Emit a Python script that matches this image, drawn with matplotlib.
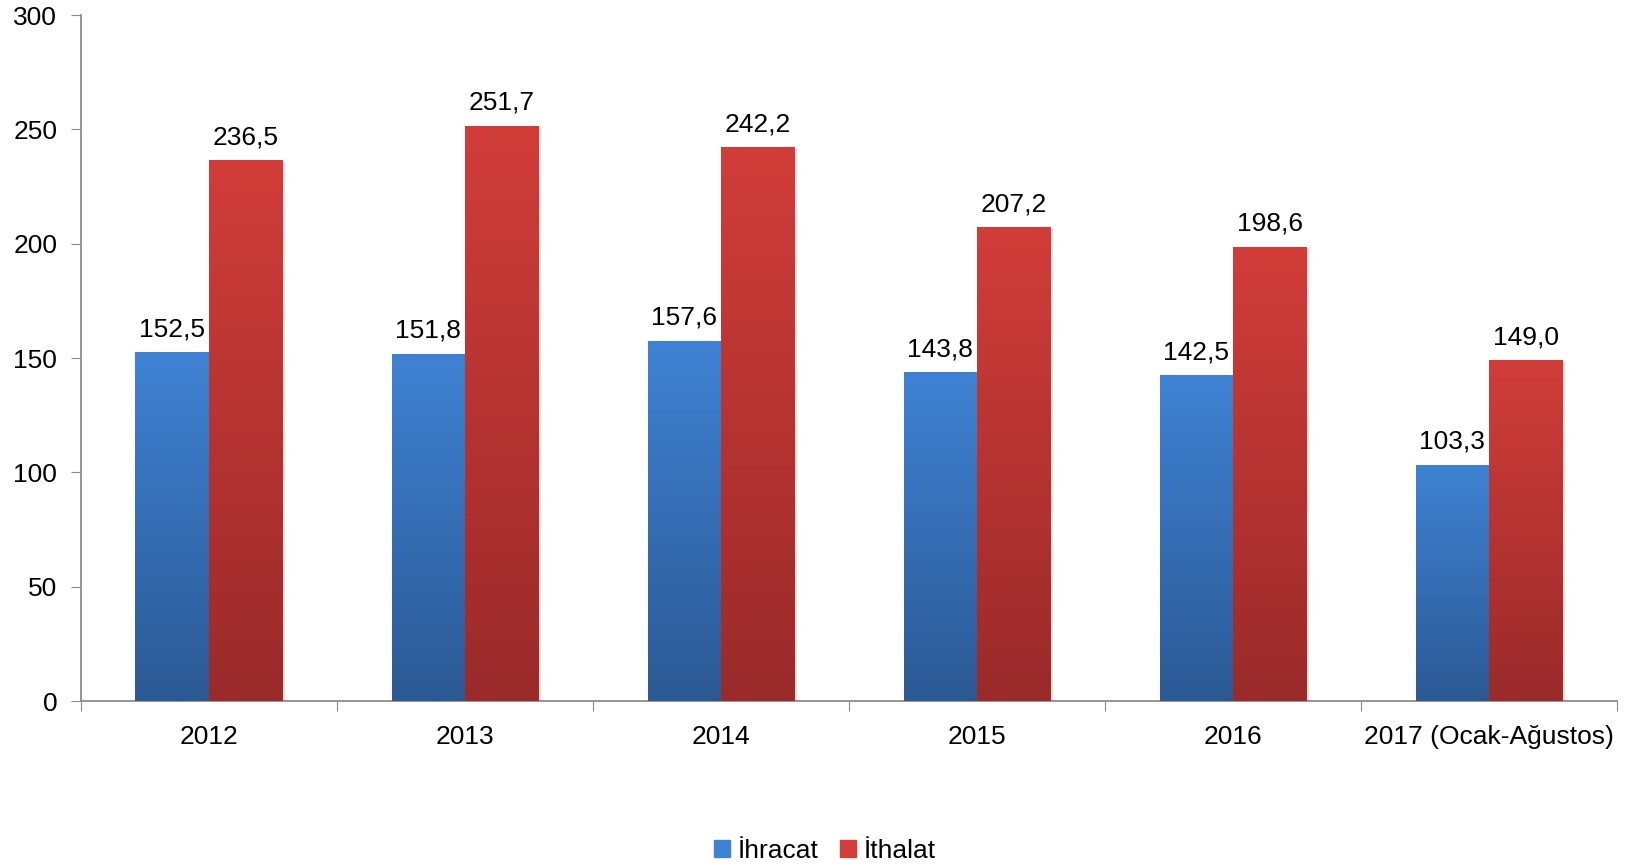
import matplotlib.pyplot as plt
import matplotlib.colors as mcolors
import numpy as np

categories = ["2012", "2013", "2014", "2015", "2016", "2017 (Ocak-Ağustos)"]
ihracat = [152.5, 151.8, 157.6, 143.8, 142.5, 103.3]
ithalat = [236.5, 251.7, 242.2, 207.2, 198.6, 149.0]
series_names = ["İhracat", "İthalat"]

plt.rcParams['font.family'] = ['Liberation Sans', 'DejaVu Sans']
FS = 19

fig = plt.figure(figsize=(16.29, 8.66), dpi=100)
ax = fig.add_axes([0.0497, 0.1905, 0.943, 0.792])

x = np.arange(len(categories))
w = 0.287

# top colour -> bottom colour for the gradient fill
grad = {
    "İhracat": ("#3f82d4", "#2b5994"),
    "İthalat": ("#d13d39", "#9a2a2a"),
}

def gradient_bars(xpos, vals, name):
    top, bot = grad[name]
    cmap = mcolors.LinearSegmentedColormap.from_list(name, [bot, top])
    bars = ax.bar(xpos, vals, width=w, color=top, label=name, zorder=2)
    g = np.linspace(0, 1, 256).reshape(-1, 1)
    for b in bars:
        bx, by = b.get_x(), b.get_y()
        bw, bh = b.get_width(), b.get_height()
        # faint shadow on the right side
        ax.bar(bx + bw / 2 + 0.008, bh, width=bw, bottom=by - 0.6,
               color="#000000", alpha=0.12, zorder=1)
        im = ax.imshow(g, cmap=cmap, origin="lower", aspect="auto",
                       extent=[bx, bx + bw, by, by + bh], zorder=3)
        im.set_clip_path(b)
        ax.annotate(f"{bh:.1f}".replace(".", ","), (bx + bw / 2, by + bh),
                    xytext=(0, 8), textcoords="offset points",
                    ha="center", va="bottom", fontsize=FS, zorder=4)
    return bars

b1 = gradient_bars(x - w / 2, ihracat, "İhracat")
b2 = gradient_bars(x + w / 2, ithalat, "İthalat")

ax.set_xlim(-0.5, len(categories) - 0.5)
ax.set_ylim(0, 300)
ax.set_yticks(range(0, 301, 50))
ax.set_xticks(np.arange(-0.5, len(categories), 1.0), minor=False)
ax.set_xticklabels([])
ax.set_xticks(x, minor=True)
ax.set_xticklabels(categories, minor=True)
ax.tick_params(axis="x", which="minor", length=0, pad=17, labelsize=FS)
ax.tick_params(axis="x", which="major", length=7, color="#8c8c8c", direction="out")
ax.tick_params(axis="y", length=7, color="#8c8c8c", labelsize=FS, pad=10)

for s in ["top", "right"]:
    ax.spines[s].set_visible(False)
for s in ["left", "bottom"]:
    ax.spines[s].set_color("#8c8c8c")
    ax.spines[s].set_linewidth(1.3)

handles = [plt.Rectangle((0, 0), 1, 1, color=grad[n][0]) for n in series_names]
fig.legend(handles, series_names, loc="center", bbox_to_anchor=(825 / 1629, 1 - 851 / 866),
           ncol=2, frameon=False, fontsize=FS, handlelength=0.6, handleheight=0.6,
           handletextpad=0.3, columnspacing=0.8)

fig.savefig("out.png", dpi=100)
